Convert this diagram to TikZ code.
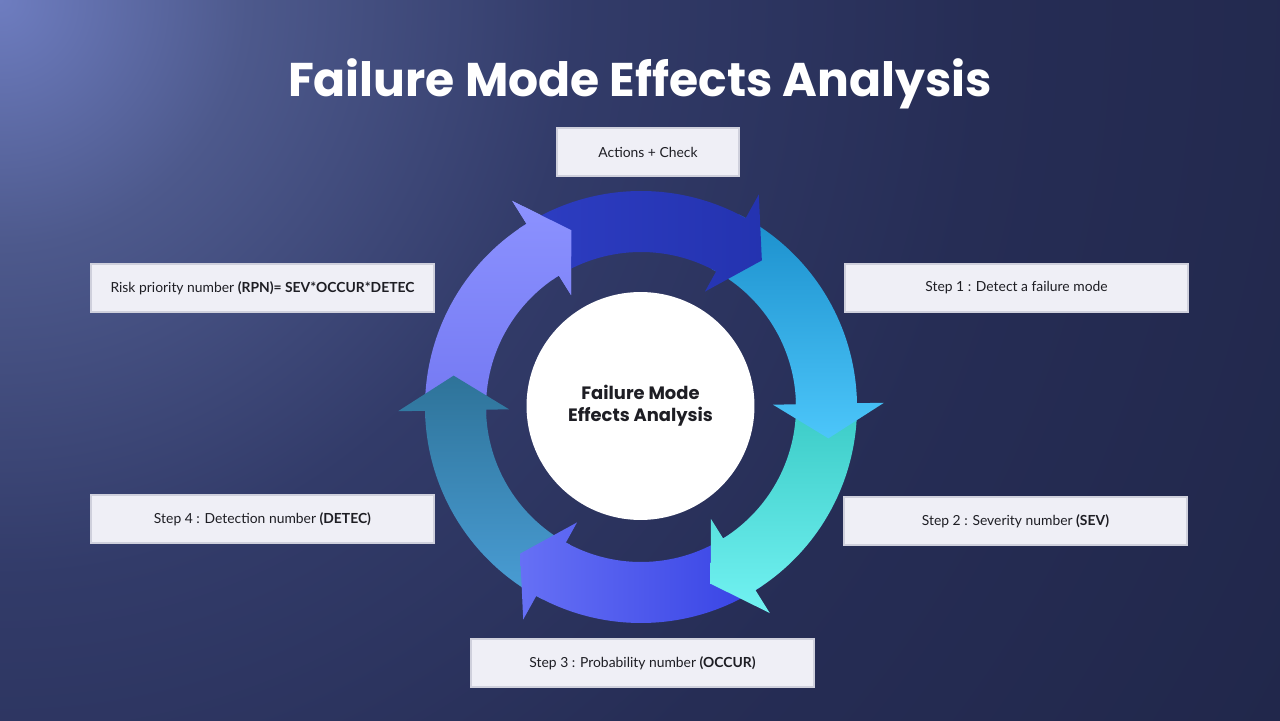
\documentclass[tikz,border=0pt]{standalone}
\usepackage{fontspec}
\setmainfont{Lato}
\newfontfamily\fmpoppins{Poppins}
\usepackage{tikz}
\usetikzlibrary{positioning, shadows}
\definecolor{fmbgA}{HTML}{6E7DC0}
\definecolor{fmbgB}{HTML}{4D598C}
\definecolor{fmbgC}{HTML}{323B69}
\definecolor{fmbgD}{HTML}{262D55}
\definecolor{fmbgE}{HTML}{1F2547}
\definecolor{fmbgF}{HTML}{1B2040}
\definecolor{fmpaper}{HTML}{EFEFF6}
\definecolor{fmedge}{HTML}{CFD0DC}
\definecolor{fmink}{HTML}{1E1E24}
% arrow colours (A = one end, B = other end)
\definecolor{fmA1}{HTML}{2D3DC2}\definecolor{fmB1}{HTML}{2433B0}
\definecolor{fmA2}{HTML}{1B8FCC}\definecolor{fmB2}{HTML}{4CC6FA}
\definecolor{fmA3}{HTML}{38C9C4}\definecolor{fmB3}{HTML}{72F2F2}
\definecolor{fmA4}{HTML}{3642E4}\definecolor{fmB4}{HTML}{6670F5}
\definecolor{fmA5}{HTML}{4A9ED6}\definecolor{fmB5}{HTML}{2E7399}
\definecolor{fmA6}{HTML}{7378F2}\definecolor{fmB6}{HTML}{8C92FF}
\pgfdeclareradialshading{fmglow}{\pgfpoint{0bp}{0bp}}{%
  color(0bp)=(fmbgA); color(4.2bp)=(fmbgB); color(9.8bp)=(fmbgC);
  color(16.8bp)=(fmbgD); color(28bp)=(fmbgE); color(50bp)=(fmbgF)}
\tikzset{
  fmbox/.style={rectangle, draw=fmedge, line width=0.8pt, fill=fmpaper, text=fmink,
    minimum height=0.96cm, inner sep=2pt, font=\fontsize{7.9}{9.5}\selectfont,
    drop shadow={opacity=0.25, shadow xshift=0.6pt, shadow yshift=-0.6pt}},
  fmwide/.style={fmbox, minimum width=6.86cm},
  fmhub/.style={circle, fill=white, minimum size=4.56cm, inner sep=0pt, align=center,
    text=fmink, font=\fmpoppins\bfseries\fontsize{10.2}{12.6}\selectfont},
  fmtitle/.style={text=white, font=\fmpoppins\bfseries\fontsize{26.9}{32}\selectfont},
}
% one curved arrow of the ring: tail angle, head angle, fill options
\newcommand\fmarrow[3]{%
  \path[#3] (#1:216) arc[start angle=#1, end angle=#2, radius=216]
    -- (#2:243) -- ({#2-10.5}:190) -- (#2:132) -- (#2:155)
    arc[start angle=#2, end angle=#1, radius=155] -- cycle;}

\begin{document}
\begin{tikzpicture}[x=0.02cm, y=0.02cm]
  % Background.
  \useasboundingbox (0,0) rectangle (1280,720);
  \begin{scope}
    \clip (0,0) rectangle (1280,720);
    \shade[shading=fmglow] (0,720) circle[radius=1470];
  \end{scope}

  \node[fmtitle] (title) at (640,636) {Failure Mode Effects Analysis};

  % Ring of arrows, drawn against the turning direction.
  \begin{scope}[shift={(641,313)}]
    \fmarrow{-177}{-238}{bottom color=fmA6, top color=fmB6}
    \fmarrow{-117}{-179}{bottom color=fmA5, top color=fmB5}
    \fmarrow{-56}{-119}{right color=fmA4, left color=fmB4}
    \fmarrow{3}{-58}{top color=fmA3, bottom color=fmB3}
    \fmarrow{63}{1}{top color=fmA2, bottom color=fmB2}
    \fmarrow{124}{61}{left color=fmA1, right color=fmB1}
    \begin{scope}
      \clip (124.5:260) arc[start angle=124.5, end angle=105, radius=260]
        -- (105:110) arc[start angle=105, end angle=124.5, radius=110] -- cycle;
      \fmarrow{-177}{-238}{bottom color=fmA6, top color=fmB6}
    \end{scope}
  \end{scope}

  \node[fmhub] (hub) at (640.5,314) {Failure Mode\\Effects Analysis};

  % Labels.
  \node[fmbox, minimum width=3.64cm] (check) at (648,568) {Actions + Check};
  \node[fmwide] (rpn) at (262.5,432)
    {Risk priority number \textbf{(RPN)= SEV*OCCUR*DETEC}};
  \node[fmwide] (step1) at (1016.5,432) {Step 1 : Detect a failure mode};
  \node[fmwide] (step2) at (1015.5,199) {Step 2 : Severity number \textbf{(SEV)}};
  \node[fmwide] (step3) at (642.5,57) {Step 3 : Probability number \textbf{(OCCUR)}};
  \node[fmwide] (step4) at (262.5,201) {Step 4 : Detection number \textbf{(DETEC)}};
\end{tikzpicture}
\end{document}
